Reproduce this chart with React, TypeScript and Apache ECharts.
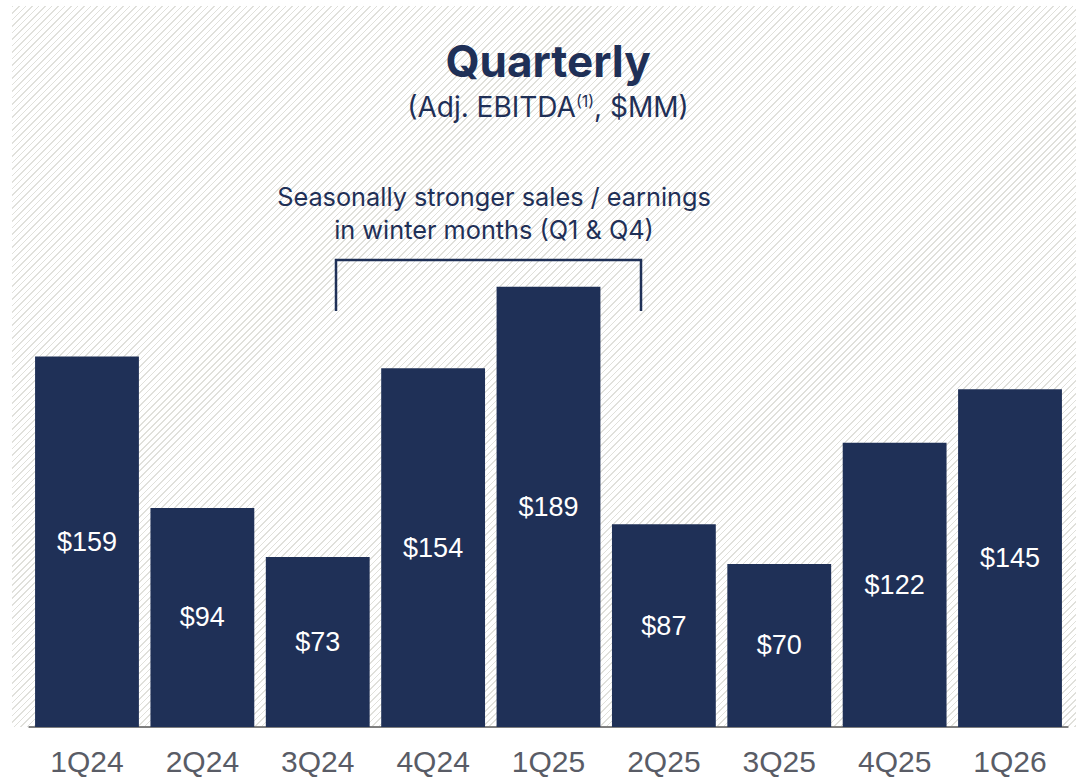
import React, { useEffect, useRef } from "react";
import * as echarts from "echarts";

const categories = ["1Q24", "2Q24", "3Q24", "4Q24", "1Q25", "2Q25", "3Q25", "4Q25", "1Q26"];
const ebitda = [159, 94, 73, 154, 189, 87, 70, 122, 145];
const titleText = "Quarterly";
const noteLines = ["Seasonally stronger sales / earnings", "in winter months (Q1 & Q4)"];

const NAVY = "#1f3057";

export default function App() {
  const ref = useRef<HTMLDivElement>(null);
  useEffect(() => {
    if (!ref.current) return;
    const chart = echarts.init(ref.current, undefined, { renderer: "svg" });
    chart.setOption({
      animation: false,
      grid: { left: 29.3, right: 8.3, top: 261, bottom: 52 },
      xAxis: {
        type: "category",
        data: categories,
        axisTick: { show: false },
        axisLine: { lineStyle: { color: "#7f7f7f", width: 2 } },
        axisLabel: {
          color: "#595c66",
          fontSize: 30,
          fontFamily: "Liberation Sans, Arial, sans-serif",
          margin: 19,
        },
      },
      yAxis: { type: "value", min: 0, max: 200, show: false, splitLine: { show: false } },
      series: [
        {
          type: "bar",
          data: ebitda,
          barCategoryGap: "10%",
          itemStyle: { color: NAVY },
          label: {
            show: true,
            position: "inside",
            color: "#ffffff",
            fontSize: 27,
            fontFamily: "Liberation Sans, Arial, sans-serif",
            formatter: (p: any) => "$" + p.value,
          },
        },
      ],
      graphic: [
        {
          type: "text",
          x: 548,
          y: 61,
          style: {
            text: titleText,
            fill: NAVY,
            align: "center",
            verticalAlign: "middle",
            font: "bold 44px Inter, 'Open Sans', sans-serif",
          },
        },
        {
          type: "text",
          x: 548,
          y: 107,
          style: {
            text: "{a|(Adj. EBITDA}{s|(1)}{a|, $MM)}",
            align: "center",
            verticalAlign: "middle",
            rich: {
              a: { fill: NAVY, fontSize: 28, fontFamily: "Inter, 'Open Sans', sans-serif" },
              s: { fill: NAVY, fontSize: 16, fontFamily: "Inter, 'Open Sans', sans-serif", verticalAlign: "top", padding: [0, 0, 12, 0] },
            },
          },
        },
        {
          type: "text",
          x: 494,
          y: 196,
          style: {
            text: noteLines[0],
            fill: NAVY,
            align: "center",
            verticalAlign: "middle",
            font: "25.3px Inter, 'Open Sans', sans-serif",
          },
        },
        {
          type: "text",
          x: 494,
          y: 229,
          style: {
            text: noteLines[1],
            fill: NAVY,
            align: "center",
            verticalAlign: "middle",
            font: "25.3px Inter, 'Open Sans', sans-serif",
          },
        },
        {
          type: "polyline",
          shape: { points: [[336, 311], [336, 260], [641, 260], [641, 311]] },
          style: { stroke: NAVY, lineWidth: 2.5, fill: "none" },
        },
      ],
    });
    return () => chart.dispose();
  }, []);
  return (
    <div style={{ position: "absolute", left: 0, top: 0, width: 1076, height: 779, background: "#fff" }}>
      <div
        style={{
          position: "absolute",
          left: 12,
          top: 6,
          width: 1064,
          height: 721,
          backgroundImage:
            "repeating-linear-gradient(135deg, #e0e0db 0px, #e0e0db 1.1px, rgba(255,255,255,0) 1.1px, rgba(255,255,255,0) 4.6px)",
        }}
      />
      <div ref={ref} style={{ position: "absolute", left: 0, top: 0, width: 1076, height: 779 }} />
    </div>
  );
}
